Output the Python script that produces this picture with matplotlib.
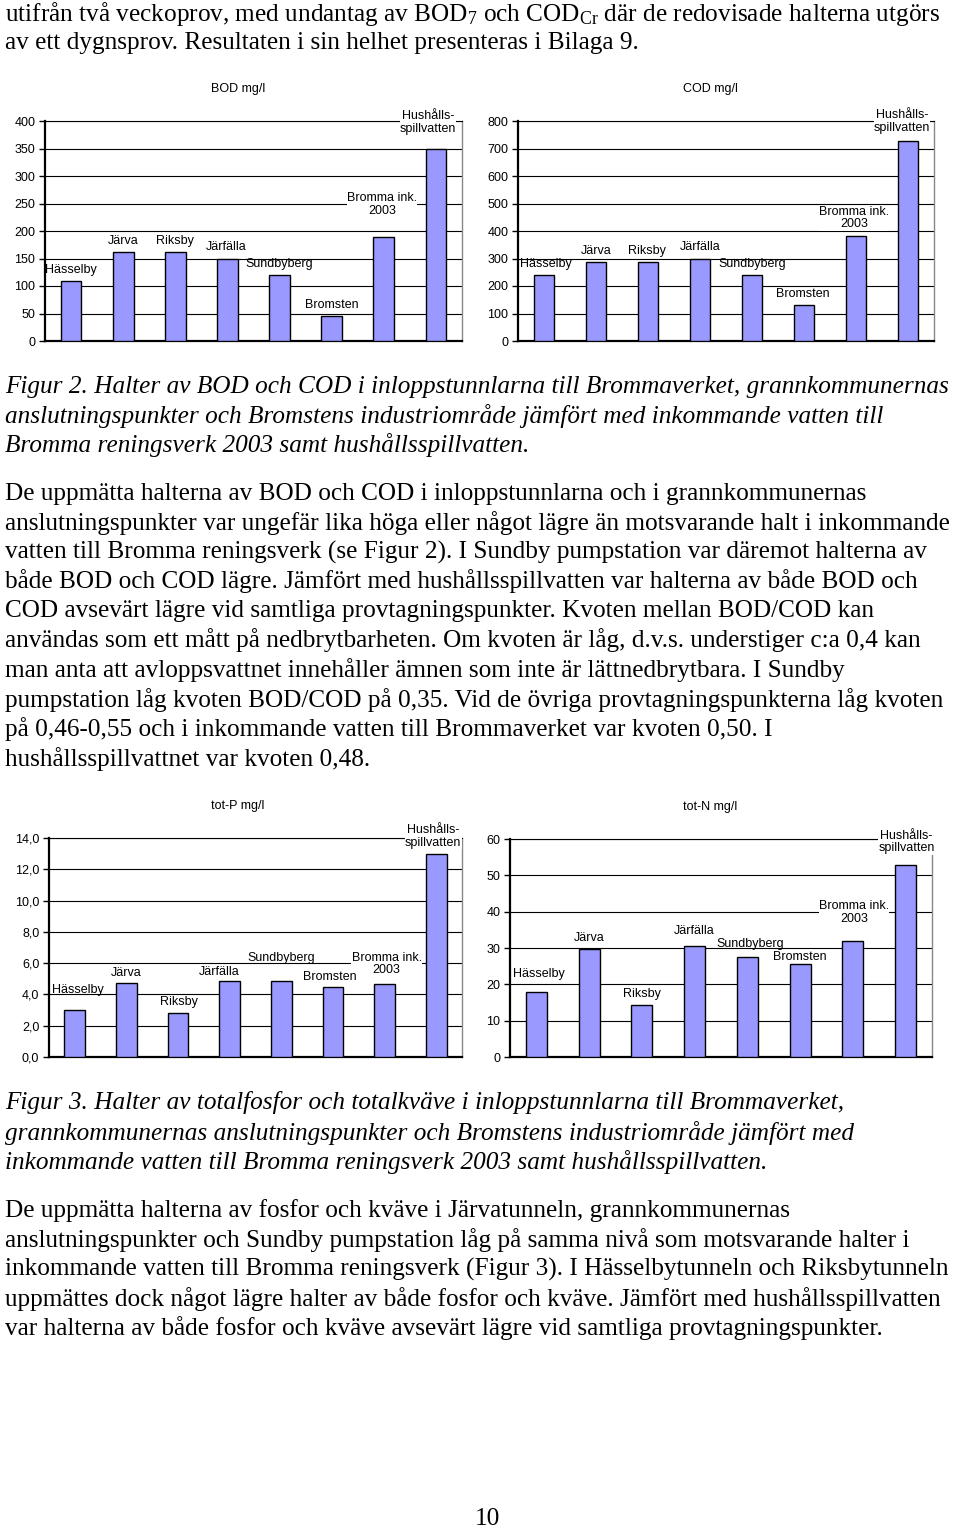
import numpy as np
import matplotlib
matplotlib.use("Agg")
import matplotlib.pyplot as plt

plt.rcParams['font.family'] = ['Liberation Sans', 'DejaVu Sans']
plt.rcParams['mathtext.fontset'] = 'custom'
plt.rcParams['mathtext.rm'] = 'Liberation Serif'
plt.rcParams['mathtext.it'] = 'Liberation Serif:italic'

W, H = 960, 1532

# ---- data ----
stations = ['Hässelby', 'Järva', 'Riksby', 'Järfälla', 'Sundbyberg', 'Bromsten',
            'Bromma ink.\n2003', 'Hushålls-\nspillvatten']
bod = [109, 161, 161, 150, 120, 45, 190, 350]
cod = [240, 288, 288, 300, 240, 131, 381, 729]
tot_p = [3.0, 4.75, 2.8, 4.85, 4.85, 4.45, 4.65, 13.0]
tot_n = [17.9, 29.7, 14.3, 30.6, 27.5, 25.7, 31.8, 52.8]

bod_ticks = [0, 50, 100, 150, 200, 250, 300, 350, 400]
cod_ticks = [0, 100, 200, 300, 400, 500, 600, 700, 800]
p_ticks = [0, 2, 4, 6, 8, 10, 12, 14]
n_ticks = [0, 10, 20, 30, 40, 50, 60]

# label offsets (pixels) from top of each bar
bod_off = [(0, -11), (0, -11), (0, -11), (-1, -12), (0, -11), (0, -11), (-2, -32), (-8, -26)]
cod_off = [(2, -11), (0, -11), (-1, -11), (0, -11), (0, -11), (-1, -11), (-2, -18), (-6, -19)]
p_off = [(3, -20), (0, -10), (1, -11), (-10, -9), (0, -23), (-3, -10), (2, -20), (-3, -17)]
n_off = [(3, -18), (0, -11), (0, -11), (0, -15), (3, -13), (0, -7), (1, -29), (1, -23)]

BAR = '#9999ff'


def px(x, y):
    return x / W, 1 - y / H


def chart(box, title, title_xy, vals, ticks, offs, fmt):
    l, t, r, b = box
    ax = fig.add_axes([l / W, 1 - b / H, (r - l) / W, (b - t) / H])
    x = np.arange(len(vals)) + 0.5
    ax.bar(x, vals, width=0.4, color=BAR, edgecolor='black', linewidth=1.0, zorder=3)
    ax.set_xlim(0, len(vals))
    ax.set_ylim(ticks[0], ticks[-1])
    ax.set_yticks(ticks)
    ax.set_yticklabels([fmt(v) for v in ticks], fontsize=9)
    ax.set_xticks([])
    ax.yaxis.grid(True, color='black', linewidth=0.8, zorder=0)
    ax.tick_params(axis='y', direction='out', length=4, width=1, pad=3)
    ax.spines['left'].set_linewidth(1.6)
    ax.spines['bottom'].set_linewidth(1.6)
    ax.spines['top'].set_linewidth(0.8)
    ax.spines['right'].set_color('#888888')
    ax.spines['right'].set_linewidth(1.0)
    for xi, v, name, (dx, dy) in zip(x, vals, stations, offs):
        two = '\n' in name
        ax.annotate(name, (xi, v), xytext=(dx, -dy), textcoords='offset pixels',
                    ha='center', va='center', fontsize=9, linespacing=1.05,
                    zorder=5 if two else 6, annotation_clip=False,
                    bbox=dict(facecolor='white', edgecolor='none', pad=0.2) if two else None)
    fig.text(*px(*title_xy), title, ha='center', va='center', fontsize=9)
    return ax


fig = plt.figure(figsize=(W / 100, H / 100), dpi=100)

chart((45, 121, 462, 341), 'BOD mg/l', (238, 89), bod, bod_ticks, bod_off, lambda v: f'{v}')
chart((518, 121, 934, 341), 'COD mg/l', (710, 89), cod, cod_ticks, cod_off, lambda v: f'{v}')
chart((49, 838, 462, 1057), 'tot-P mg/l', (238, 806), tot_p, p_ticks, p_off,
      lambda v: f'{v:.1f}'.replace('.', ','))
chart((510, 839, 932, 1057), 'tot-N mg/l', (710, 807), tot_n, n_ticks, n_off, lambda v: f'{v}')

# ---- page text ----
serif = ['Liberation Serif', 'DejaVu Serif']
FS = 18.2

top_lines = [
    (14, r'utifrån två veckoprov, med undantag av BOD$_7$ och COD$_{\mathrm{Cr}}$ där de redovisade halterna utgörs'),
    (43, 'av ett dygnsprov. Resultaten i sin helhet presenteras i Bilaga 9.'),
]
cap2 = [
    (387, 'Figur 2. Halter av BOD och COD i inloppstunnlarna till Brommaverket, grannkommunernas'),
    (416, 'anslutningspunkter och Bromstens industriområde jämfört med inkommande vatten till'),
    (445, 'Bromma reningsverk 2003 samt hushållsspillvatten.'),
]
para1 = [
    'De uppmätta halterna av BOD och COD i inloppstunnlarna och i grannkommunernas',
    'anslutningspunkter var ungefär lika höga eller något lägre än motsvarande halt i inkommande',
    'vatten till Bromma reningsverk (se Figur 2). I Sundby pumpstation var däremot halterna av',
    'både BOD och COD lägre. Jämfört med hushållsspillvatten var halterna av både BOD och',
    'COD avsevärt lägre vid samtliga provtagningspunkter. Kvoten mellan BOD/COD kan',
    'användas som ett mått på nedbrytbarheten. Om kvoten är låg, d.v.s. understiger c:a 0,4 kan',
    'man anta att avloppsvattnet innehåller ämnen som inte är lättnedbrytbara. I Sundby',
    'pumpstation låg kvoten BOD/COD på 0,35. Vid de övriga provtagningspunkterna låg kvoten',
    'på 0,46-0,55 och i inkommande vatten till Brommaverket var kvoten 0,50. I',
    'hushållsspillvattnet var kvoten 0,48.',
]
para1_y = [494, 523, 552, 581, 611, 640, 670, 700, 729, 759]
cap3 = [
    (1103, 'Figur 3. Halter av totalfosfor och totalkväve i inloppstunnlarna till Brommaverket,'),
    (1133, 'grannkommunernas anslutningspunkter och Bromstens industriområde jämfört med'),
    (1162, 'inkommande vatten till Bromma reningsverk 2003 samt hushållsspillvatten.'),
]
para2 = [
    'De uppmätta halterna av fosfor och kväve i Järvatunneln, grannkommunernas',
    'anslutningspunkter och Sundby pumpstation låg på samma nivå som motsvarande halter i',
    'inkommande vatten till Bromma reningsverk (Figur 3). I Hässelbytunneln och Riksbytunneln',
    'uppmättes dock något lägre halter av både fosfor och kväve. Jämfört med hushållsspillvatten',
    'var halterna av både fosfor och kväve avsevärt lägre vid samtliga provtagningspunkter.',
]
para2_y = [1211, 1240, 1269, 1299, 1328]

for y, s in top_lines:
    fig.text(*px(5, y), s, ha='left', va='center', fontsize=FS, family=serif)
for y, s in cap2 + cap3:
    fig.text(*px(5, y), s, ha='left', va='center', fontsize=FS, family=serif, style='italic')
for y, s in zip(para1_y + para2_y, para1 + para2):
    fig.text(*px(5, y), s, ha='left', va='center', fontsize=FS, family=serif)

fig.text(*px(487, 1519), '10', ha='center', va='center', fontsize=FS, family=serif)

fig.savefig('out.png', dpi=100, facecolor='white')
